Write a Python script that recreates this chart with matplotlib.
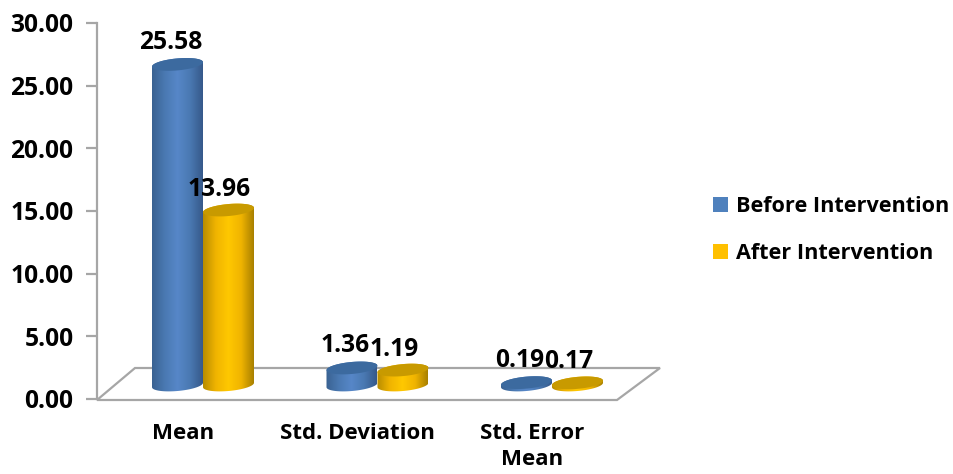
import numpy as np
import matplotlib
matplotlib.use("Agg")
import matplotlib.pyplot as plt
from matplotlib.patches import Patch, Polygon

plt.rcParams['font.family'] = ['Open Sans', 'DejaVu Sans']
plt.rcParams['font.weight'] = 'bold'

#===========
# USER DATA
#===========
categories = ["Mean", "Std. Deviation", "Std. Error\nMean"]
before = [25.58, 1.36, 0.19]
after = [13.96, 1.19, 0.17]
before_lbl = ["25.58", "1.36", "0.19"]
after_lbl = ["13.96", "1.19", "0.17"]
yticks = [0, 5, 10, 15, 20, 25, 30]
series_names = ["Before Intervention", "After Intervention"]

#===========
# PLOT DATA
#===========
W, H = 954, 474
ax_l, ax_r, ax_b, ax_t = 97, 697, 399, 23   # axes box, px
x0, dx = 183, 174.5                         # px of first category, px per category
ppu = (ax_b - ax_t) / 30.0                  # px per y unit
width = 51 / dx
shift = 20 / dx                             # bars sit right of the tick labels
floor_y = 14 / ppu                          # bars stand on the 3d floor
ry = 6.0 / ppu                              # ellipse half height
slant = 2.2 / ppu                           # ellipse tilt, right side higher
grey = "#a6a6a6"

blue = ["#3a6292", "#4a79b2", "#5787c8", "#4a79b2", "#36598a"]
gold = ["#b88c00", "#f0b400", "#ffc800", "#f0b400", "#a88000"]
blue_top, gold_top = "#3c6a9f", "#c89a00"


def px_x(p):
    return (p - x0) / dx


def px_y(p):
    return (ax_b - p) / ppu


def ellipse(cx, cy, t):
    a = width / 2
    return cx + a * np.cos(t), cy + ry * np.sin(t) + slant * np.cos(t)


def cylinder(ax, cx, val, cols, top_col, z):
    top = val + floor_y
    t = np.linspace(np.pi, 2 * np.pi, 40)
    xb, yb = ellipse(cx, floor_y, t)
    t2 = np.linspace(0, np.pi, 40)
    xt, yt = ellipse(cx, top, t2)
    verts = np.vstack([np.column_stack([xb, yb]), np.column_stack([xt, yt])])
    clip = Polygon(verts, closed=True, transform=ax.transData, fc="none", ec="none")
    ax.add_patch(clip)
    grad = matplotlib.colors.LinearSegmentedColormap.from_list("c", cols)
    im = ax.imshow(np.linspace(0, 1, 128).reshape(1, -1), cmap=grad, aspect="auto",
                   extent=[cx - width / 2, cx + width / 2, floor_y - 2 * ry, top + 2 * ry],
                   zorder=z, clip_on=True)
    im.set_clip_path(clip)
    xe, ye = ellipse(cx, top, np.linspace(0, 2 * np.pi, 80))
    ax.add_patch(Polygon(np.column_stack([xe, ye]), closed=True, fc=top_col, ec="none",
                         zorder=z + 0.1, clip_on=False))


fig = plt.figure(figsize=(W / 100, H / 100), dpi=100)
ax = fig.add_axes([ax_l / W, 1 - ax_b / H, (ax_r - ax_l) / W, (ax_b - ax_t) / H])
ax.patch.set_alpha(0)

# floor
floor = [(97, 400), (135, 368), (660, 368), (617, 400)]
ax.add_patch(Polygon([(px_x(a), px_y(b)) for a, b in floor], closed=True, fc="white",
                     ec=grey, lw=1.6, clip_on=False, zorder=1))

pos = np.arange(len(categories))
for i in pos:
    cylinder(ax, i + shift - width / 2, before[i], blue, blue_top, 2 + i)
    cylinder(ax, i + shift + width / 2, after[i], gold, gold_top, 2.5 + i)
    ax.annotate(before_lbl[i], (i + shift - width / 2, before[i] + floor_y), xytext=(-7, 22),
                textcoords="offset pixels", ha="center", va="center", fontsize=17.7, zorder=10)
    ax.annotate(after_lbl[i], (i + shift + width / 2, after[i] + floor_y), xytext=(-9, 21),
                textcoords="offset pixels", ha="center", va="center", fontsize=17.7, zorder=10)

ax.set_xlim(px_x(ax_l), px_x(ax_r))
ax.set_ylim(0, 30)

ax.set_yticks(yticks)
ax.set_yticklabels(["%.2f" % v for v in yticks], fontsize=17.7)
ax.set_xticks(pos)
ax.set_xticklabels(categories, fontsize=16, linespacing=1.32)
ax.tick_params(axis="y", length=8, width=1.6, color=grey, pad=9)
ax.tick_params(axis="x", length=0, pad=17.5)
for s in ["top", "right", "bottom"]:
    ax.spines[s].set_visible(False)
ax.spines["left"].set_color(grey)
ax.spines["left"].set_linewidth(1.6)

handles = [Patch(fc="#4f81bd", ec="none", label=series_names[0]),
           Patch(fc="#ffc000", ec="none", label=series_names[1])]
fig.legend(handles=handles, loc="center left", bbox_to_anchor=(713 / W, 1 - 230 / H),
           frameon=False, fontsize=15.6, handlelength=0.7, handleheight=0.7,
           handletextpad=0.38, labelspacing=1.22, borderpad=0, borderaxespad=0)

plt.savefig("out.png", dpi=100)
